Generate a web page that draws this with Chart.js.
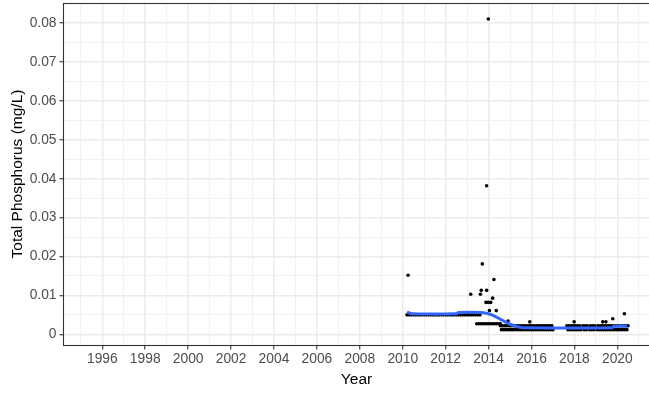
<!DOCTYPE html>
<html>
<head>
<meta charset="utf-8">
<script src="https://cdn.jsdelivr.net/npm/chart.js@4.4.0/dist/chart.umd.min.js"></script>
<style>
  html, body { margin: 0; padding: 0; background: #fff; }
  canvas { display: block; }
</style>
</head>
<body>
<canvas id="tpChart" width="649" height="394"></canvas>
<script>
// axis breaks
const yearLabels = [1996, 1998, 2000, 2002, 2004, 2006, 2008, 2010, 2012, 2014, 2016, 2018, 2020];
const yearMinor = [1995, 1997, 1999, 2001, 2003, 2005, 2007, 2009, 2011, 2013, 2015, 2017, 2019, 2021];
const tpLabels = [0, 0.01, 0.02, 0.03, 0.04, 0.05, 0.06, 0.07, 0.08];
const tpMinor = [0.005, 0.015, 0.025, 0.035, 0.045, 0.055, 0.065, 0.075];

// samples sitting on the 0.005 mg/L level, 2010 - 2013
const yearsLevelA = [2010.2, 2010.3, 2010.4, 2010.5, 2010.6, 2010.7, 2010.8, 2010.9, 2011.0, 2011.1,
  2011.2, 2011.3, 2011.4, 2011.5, 2011.6, 2011.7, 2011.8, 2011.9, 2012.0, 2012.1, 2012.2, 2012.3,
  2012.4, 2012.5, 2012.6, 2012.7, 2012.8, 2012.9, 2013.0, 2013.1, 2013.2, 2013.3, 2013.4, 2013.5, 2013.6];
const tpLevelA = 0.005;

// samples around 0.0027 mg/L, late 2013 - mid 2014
const yearsLevelB = [2013.45, 2013.55, 2013.65, 2013.75, 2013.85, 2013.95, 2014.05, 2014.15,
  2014.25, 2014.35, 2014.45, 2014.55];
const tpLevelB = 0.0027;

// low readings after mid 2014 (upper row)
const yearsLevelC = [2014.55, 2014.65, 2014.75, 2014.85, 2014.95, 2015.05, 2015.15, 2015.25, 2015.35,
  2015.45, 2015.55, 2015.65, 2015.75, 2015.85, 2015.95, 2016.05, 2016.15, 2016.25, 2016.35, 2016.45,
  2016.55, 2016.65, 2016.75, 2016.85, 2016.95,
  2017.65, 2017.75, 2017.85, 2017.95, 2018.05, 2018.15, 2018.25, 2018.4, 2018.5, 2018.6, 2018.75,
  2018.85, 2018.95, 2019.1, 2019.2, 2019.3, 2019.4, 2019.5, 2019.6, 2019.7, 2019.8, 2019.9, 2020.0,
  2020.1, 2020.2, 2020.3, 2020.4, 2020.5];
const tpLevelC = 0.0022;

// low readings after mid 2014 (lower row)
const yearsLevelD = [2014.6, 2014.7, 2014.8, 2014.9, 2015.0, 2015.1, 2015.2, 2015.3, 2015.4, 2015.5,
  2015.6, 2015.7, 2015.8, 2015.9, 2016.0, 2016.1, 2016.2, 2016.3, 2016.4, 2016.5, 2016.6, 2016.7,
  2016.8, 2016.9, 2017.0,
  2017.7, 2017.8, 2017.9, 2018.0, 2018.1, 2018.2, 2018.3, 2018.45, 2018.55, 2018.7, 2018.8, 2018.9,
  2019.05, 2019.15, 2019.25, 2019.35, 2019.45, 2019.55, 2019.65, 2019.75, 2019.85, 2019.95, 2020.05,
  2020.15, 2020.25, 2020.35, 2020.45];
const tpLevelD = 0.0012;

// individual higher readings
const spikeYears = [2010.25, 2013.17, 2013.62, 2013.66, 2013.71, 2013.91, 2013.91, 2013.99, 2013.88,
  2013.99, 2014.10, 2014.19, 2014.25, 2014.04, 2014.36, 2014.91, 2015.92, 2017.99, 2019.32, 2019.47,
  2019.79, 2020.33];
const spikeTP = [0.0152, 0.0103, 0.0103, 0.0113, 0.0181, 0.0113, 0.0382, 0.0811, 0.0082,
  0.0082, 0.0082, 0.0093, 0.0141, 0.0061, 0.0061, 0.0034, 0.0032, 0.0032, 0.0032, 0.0032,
  0.0040, 0.0053];

// smoothed trend
const trendYears = [2010.2, 2010.4, 2012.5, 2012.6, 2013.6, 2013.9, 2014.15, 2014.45, 2014.77, 2015.1,
  2015.4, 2015.6, 2019.75, 2019.85, 2020.45];
const trendTP = [0.0057, 0.0053, 0.0053, 0.0056, 0.0056, 0.0054, 0.0050, 0.0042, 0.0032, 0.0024,
  0.0019, 0.0017, 0.0017, 0.0021, 0.0021];

const points = [];
yearsLevelA.forEach(x => points.push({x: x, y: tpLevelA}));
yearsLevelB.forEach(x => points.push({x: x, y: tpLevelB}));
yearsLevelC.forEach(x => points.push({x: x, y: tpLevelC}));
yearsLevelD.forEach(x => points.push({x: x, y: tpLevelD}));
spikeYears.forEach((x, i) => points.push({x: x, y: spikeTP[i]}));

const trend = trendYears.map((x, i) => ({x: x, y: trendTP[i]}));

const xTicks = yearLabels.concat(yearMinor).sort((a, b) => a - b);
const yTicks = tpLabels.concat(tpMinor).sort((a, b) => a - b);

const isMajorX = v => yearLabels.includes(v);
const isMajorY = v => tpLabels.some(t => Math.abs(t - v) < 1e-9);

// ggplot-like panel border
const panelBorder = {
  id: 'panelBorder',
  afterDraw(chart) {
    const a = chart.chartArea;
    const ctx = chart.ctx;
    ctx.save();
    ctx.strokeStyle = '#333333';
    ctx.lineWidth = 1.1;
    ctx.strokeRect(a.left - 0.5, a.top + 0.5, a.right - a.left + 4, a.bottom - a.top);
    ctx.restore();
  }
};

const tickFont = {family: '"Liberation Sans", Arial, sans-serif', size: 13.8};
const titleFont = {family: '"Liberation Sans", Arial, sans-serif', size: 15.5};

const config = {
  type: 'scatter',
  data: {
    datasets: [
      {
        label: 'trend',
        data: trend,
        showLine: true,
        borderColor: '#3366FF',
        borderWidth: 3,
        pointRadius: 0,
        pointHoverRadius: 0,
        tension: 0.3,
        order: 0
      },
      {
        label: 'samples',
        data: points,
        backgroundColor: '#000000',
        borderWidth: 0,
        pointRadius: 1.8,
        pointHoverRadius: 1.8,
        order: 1
      }
    ]
  },
  options: {
    responsive: false,
    animation: false,
    devicePixelRatio: 1,
    layout: {autoPadding: false, padding: {top: 3, left: 0, right: 0, bottom: 0}},
    plugins: {legend: {display: false}, tooltip: {enabled: false}},
    scales: {
      x: {
        type: 'linear',
        min: 1994.215,
        max: 2021.477,
        afterBuildTicks: s => { s.ticks = xTicks.map(v => ({value: v})); },
        afterFit: s => { s.height = 49; s.paddingLeft = 0; s.paddingRight = 0; },
        border: {display: false},
        grid: {
          color: c => isMajorX(c.tick.value) ? '#ebebeb' : '#f1f1f1',
          lineWidth: c => isMajorX(c.tick.value) ? 1.5 : 1,
          tickColor: c => isMajorX(c.tick.value) ? '#333333' : 'rgba(0,0,0,0)',
          tickLength: 4.5,
          tickWidth: 1.1
        },
        ticks: {
          autoSkip: false,
          maxRotation: 0,
          padding: 1,
          color: '#4d4d4d',
          font: tickFont,
          callback: v => isMajorX(v) ? String(v) : ''
        },
        title: {
          display: true,
          text: 'Year',
          color: '#000000',
          font: titleFont,
          padding: {top: 0, bottom: 4.7}
        }
      },
      y: {
        type: 'linear',
        min: -0.00275,
        max: 0.0852,
        afterBuildTicks: s => { s.ticks = yTicks.map(v => ({value: v})); },
        afterFit: s => { s.width = 64; s.paddingTop = 0; s.paddingBottom = 0; },
        border: {display: false},
        grid: {
          color: c => isMajorY(c.tick.value) ? '#ebebeb' : '#f1f1f1',
          lineWidth: c => isMajorY(c.tick.value) ? 1.5 : 1,
          tickColor: c => isMajorY(c.tick.value) ? '#333333' : 'rgba(0,0,0,0)',
          tickLength: 4.5,
          tickWidth: 1.1
        },
        ticks: {
          autoSkip: false,
          padding: 3,
          color: '#4d4d4d',
          font: tickFont,
          callback: v => isMajorY(v) ? (v === 0 ? '0' : v.toFixed(2)) : ''
        },
        title: {
          display: true,
          text: 'Total Phosphorus (mg/L)',
          color: '#000000',
          font: titleFont,
          padding: {top: 8, bottom: 0}
        }
      }
    }
  },
  plugins: [panelBorder]
};

const tpChart = new Chart(document.getElementById('tpChart'), config);
</script>
</body>
</html>
